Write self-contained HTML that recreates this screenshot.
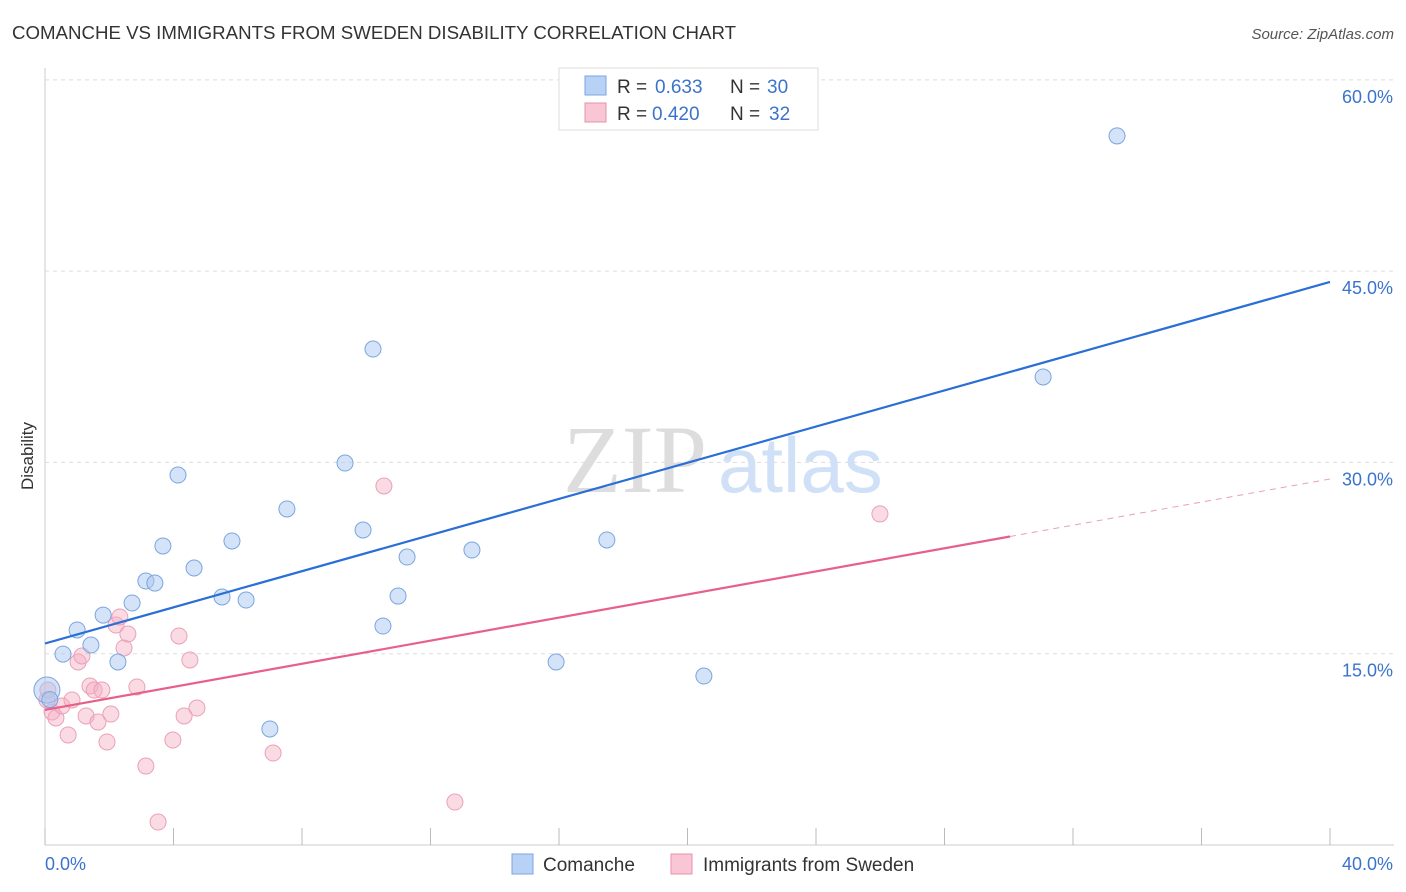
<!DOCTYPE html>
<html><head><meta charset="utf-8"><style>
body{margin:0;background:#fff;font-family:"Liberation Sans",sans-serif;}
svg{display:block}
</style></head><body>
<svg id="chart" width="1406" height="892">
<text x="12" y="39" font-size="18" fill="#333" textLength="724" lengthAdjust="spacingAndGlyphs">COMANCHE VS IMMIGRANTS FROM SWEDEN DISABILITY CORRELATION CHART</text>
<text x="1394" y="39" font-size="15" fill="#555" font-style="italic" text-anchor="end">Source: ZipAtlas.com</text>
<text x="33" y="456" font-size="17" fill="#333" text-anchor="middle" transform="rotate(-90 33 456)">Disability</text>
<g id="grid"></g>
<text x="635" y="492" font-size="96" fill="#ddd" font-family="Liberation Serif" text-anchor="middle">ZIP</text>
<text x="718" y="492" font-size="78" fill="#d0e0f6">atlas</text>
<g id="marks"></g>
<g>
<rect x="559" y="68" width="259" height="62" fill="#fff" stroke="#ddd"/>
<rect x="585" y="76" width="21" height="19" fill="#b8d2f5" stroke="#7aa6e0"/>
<rect x="585" y="103" width="21" height="19" fill="#f8c6d4" stroke="#e890a8"/>
<text x="617" y="93" font-size="19" fill="#333">R =</text>
<text x="655" y="93" font-size="19" fill="#3b73cc">0.633</text>
<text x="730" y="93" font-size="19" fill="#333">N =</text>
<text x="767" y="93" font-size="19" fill="#3b73cc">30</text>
<text x="617" y="120" font-size="19" fill="#333">R =</text>
<text x="652" y="120" font-size="19" fill="#3b73cc">0.420</text>
<text x="730" y="120" font-size="19" fill="#333">N =</text>
<text x="769" y="120" font-size="19" fill="#3b73cc">32</text>
</g>
<g>
<rect x="512" y="854" width="21" height="20" fill="#b8d2f5" stroke="#7aa6e0"/>
<text x="543" y="871" font-size="19" fill="#333">Comanche</text>
<rect x="671" y="854" width="21" height="20" fill="#f8c6d4" stroke="#e890a8"/>
<text x="703" y="871" font-size="19" fill="#333">Immigrants from Sweden</text>
</g>
</svg>
<script>
const xTicks=[0,4,8,12,16,20,24,28,32,36,40];
const yTicks=[15,30,45,60];
const blueX=[0.06,0.56,1.0,1.43,1.81,2.27,2.71,3.14,3.42,3.67,4.14,4.64,5.51,5.82,6.26,7.0,7.53,9.34,9.90,10.21,10.52,10.99,11.27,13.29,15.91,17.49,20.51,31.07,33.37,0.15];
const blueY=[12.15,14.97,16.86,15.68,18.03,14.35,18.98,20.70,20.54,23.45,29.01,21.72,19.45,23.84,19.21,9.10,26.35,29.95,24.70,38.89,17.17,19.52,22.58,23.13,14.35,23.92,13.25,36.70,55.60,11.4];
const pinkX=[0.06,0.22,0.34,0.53,0.72,0.84,1.03,1.15,1.28,1.40,1.53,1.65,1.77,1.93,2.05,2.21,2.33,2.46,2.58,2.86,3.14,3.52,3.98,4.17,4.33,4.51,4.73,7.10,10.55,12.76,25.99,0.09];
const pinkY=[11.37,10.43,9.96,10.90,8.63,11.37,14.35,14.82,10.12,12.47,12.15,9.64,12.15,8.08,10.27,17.25,17.88,15.45,16.55,12.39,6.19,1.80,8.23,16.39,10.12,14.51,10.74,7.21,28.15,3.37,25.96,12.15];
const blueLine=[15.8,44.15];
const pinkLine=[10.59,28.7];
const pinkSolidEnd=30.04;
const X=v=>45+v*32.125, Y=v=>845-v*12.753;
const NS="http://www.w3.org/2000/svg";
function mk(t,a,p){const e=document.createElementNS(NS,t);for(const k in a)e.setAttribute(k,a[k]);p.appendChild(e);return e;}
const g=document.getElementById('grid'), m=document.getElementById('marks');
let ax=mk('line',{x1:45,y1:68,x2:45,y2:845,stroke:'#ccc'},g);


let bx=mk('line',{x1:45,y1:845,x2:1394,y2:845,stroke:'#ccc'},g);


yTicks.forEach(t=>{
 const l=mk('line',{x1:45,y1:Y(t),x2:1394,y2:Y(t),stroke:'#ddd','stroke-dasharray':'4,4'},g);
 
 
 const tx=mk('text',{x:1393,y:Y(t)+23,'font-size':18,fill:'#3b73cc','text-anchor':'end'},g);
 tx.textContent=t.toFixed(1)+'%';
 
 
});
xTicks.forEach(t=>{
 const l=mk('line',{x1:X(t),y1:828,x2:X(t),y2:845,stroke:'#bbb'},g);
 
 
});
[[0,'start',45],[40,'end',1393]].forEach(([t,a,px])=>{
 const tx=mk('text',{x:px,y:870,'font-size':18,fill:'#3b73cc','text-anchor':a},g);
 tx.textContent=t.toFixed(1)+'%';
 
 
});
pinkX.forEach((v,i)=>{
 const c=mk('circle',{cx:X(v),cy:Y(pinkY[i]),r:8,fill:'rgba(245,175,195,0.45)',stroke:'#eba0b8','stroke-width':1},m);
 
 
});
blueX.forEach((v,i)=>{
 const c=mk('circle',{cx:X(v),cy:Y(blueY[i]),r:(i==0?13:8),fill:'rgba(169,200,240,0.5)',stroke:'#7aa6e0','stroke-width':1},m);
 
 
});
const py=x=>pinkLine[0]+(pinkLine[1]-pinkLine[0])*x/40;
let l1=mk('line',{x1:X(0),y1:Y(blueLine[0]),x2:X(40),y2:Y(blueLine[1]),stroke:'#2a6fd6','stroke-width':2.2},m);


let l2=mk('line',{x1:X(0),y1:Y(py(0)),x2:X(pinkSolidEnd),y2:Y(py(pinkSolidEnd)),stroke:'#e8608a','stroke-width':2.2},m);


let l3=mk('line',{x1:X(pinkSolidEnd),y1:Y(py(pinkSolidEnd)),x2:X(40),y2:Y(py(40)),stroke:'#e8a0b8','stroke-width':1,'stroke-dasharray':'6,5'},m);


</script>
</body></html>
